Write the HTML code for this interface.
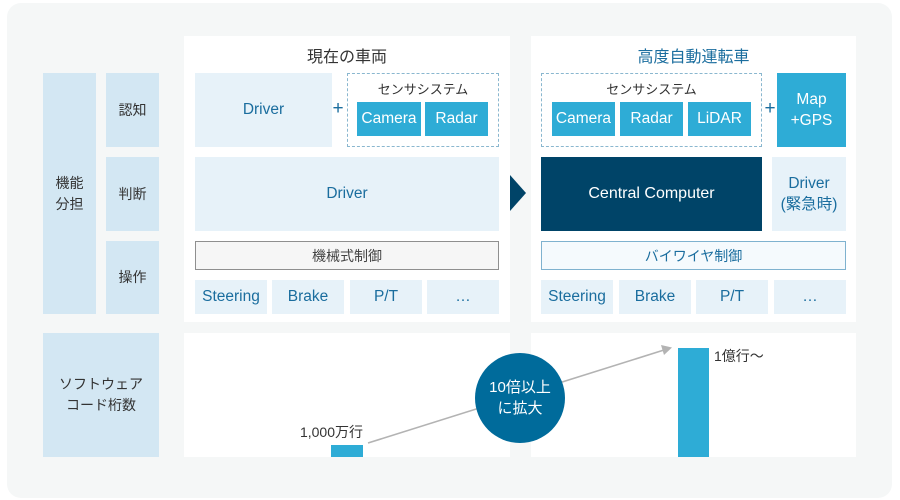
<!DOCTYPE html>
<html><head><meta charset="utf-8">
<style>
*{margin:0;padding:0;box-sizing:border-box}
body{width:900px;height:500px;background:#fff;position:relative;overflow:hidden;font-family:"Liberation Sans","Noto Sans CJK JP",sans-serif}
.a{position:absolute;display:flex;align-items:center;justify-content:center;text-align:center}
.lab{background:#d3e7f3;color:#333;font-size:14px;line-height:21px}
.lt{background:#e7f2f9;color:#1a6d9e;font-size:15.5px}
.cy{background:#2eacd6;color:#fff;font-size:15.5px}
.w{background:#fff}
.pl{color:#1a6d9e;font-size:19px;font-weight:300}
</style></head><body>
<div style="position:absolute;left:7px;top:3px;width:885px;height:495px;background:#f5f7f7;border-radius:14px"></div>

<div class="a w" style="left:184px;top:36px;width:326px;height:286px"></div>
<div class="a w" style="left:531px;top:36px;width:325px;height:286px"></div>
<div class="a w" style="left:184px;top:333px;width:326px;height:124px"></div>
<div class="a w" style="left:531px;top:333px;width:325px;height:124px"></div>

<div class="a lab" style="left:43px;top:73px;width:53px;height:241px">機能<br>分担</div>
<div class="a lab" style="left:106px;top:73px;width:53px;height:74px">認知</div>
<div class="a lab" style="left:106px;top:157px;width:53px;height:74px">判断</div>
<div class="a lab" style="left:106px;top:241px;width:53px;height:73px">操作</div>
<div class="a lab" style="left:43px;top:333px;width:116px;height:124px">ソフトウェア<br>コード桁数</div>

<div class="a" style="left:184px;top:44px;width:326px;height:22px;color:#333;font-size:16px">現在の車両</div>
<div class="a" style="left:531px;top:44px;width:325px;height:22px;color:#1a6d9e;font-size:16px">高度自動運転車</div>

<!-- left panel -->
<div class="a lt" style="left:195px;top:73px;width:137px;height:74px">Driver</div>
<div class="a pl" style="left:331px;top:98px;width:14px;height:22px">+</div>
<div style="position:absolute;left:347px;top:73px;width:152px;height:74px;border:1px dashed #8ab7cf"></div>
<div class="a" style="left:347px;top:79px;width:152px;height:18px;color:#333;font-size:13px">センサシステム</div>
<div class="a cy" style="left:357px;top:102px;width:64px;height:34px">Camera</div>
<div class="a cy" style="left:425px;top:102px;width:63px;height:34px">Radar</div>
<div class="a lt" style="left:195px;top:157px;width:304px;height:74px">Driver</div>
<div class="a" style="left:195px;top:241px;width:304px;height:29px;border:1px solid #8f8f8f;background:#f6f6f6;color:#444;font-size:14px">機械式制御</div>
<div class="a lt" style="left:195px;top:280px;width:72px;height:34px">Steering</div>
<div class="a lt" style="left:272px;top:280px;width:72px;height:34px">Brake</div>
<div class="a lt" style="left:350px;top:280px;width:72px;height:34px">P/T</div>
<div class="a lt" style="left:427px;top:280px;width:72px;height:34px">…</div>

<!-- arrow -->
<svg style="position:absolute;left:0;top:0" width="900" height="500">
<polygon points="510,175 526,193 510,211" fill="#004468"/>
<line x1="368" y1="443" x2="664" y2="350" stroke="#b3b3b3" stroke-width="1.6"/>
<polygon points="672,347.5 661,345 664,355" fill="#b3b3b3"/>
<circle cx="520" cy="398" r="45" fill="#006b9b"/>
</svg>

<!-- right panel -->
<div style="position:absolute;left:541px;top:73px;width:221px;height:74px;border:1px dashed #8ab7cf"></div>
<div class="a" style="left:541px;top:79px;width:221px;height:18px;color:#333;font-size:13px">センサシステム</div>
<div class="a cy" style="left:552px;top:102px;width:63px;height:34px">Camera</div>
<div class="a cy" style="left:620px;top:102px;width:63px;height:34px">Radar</div>
<div class="a cy" style="left:688px;top:102px;width:63px;height:34px">LiDAR</div>
<div class="a pl" style="left:763px;top:98px;width:14px;height:22px">+</div>
<div class="a cy" style="left:777px;top:73px;width:69px;height:74px;line-height:21px">Map<br>+GPS</div>
<div class="a" style="left:541px;top:157px;width:221px;height:74px;background:#004468;color:#fff;font-size:16px">Central Computer</div>
<div class="a lt" style="left:772px;top:157px;width:74px;height:74px;line-height:21px">Driver<br>(緊急時)</div>
<div class="a" style="left:541px;top:241px;width:305px;height:29px;border:1px solid #7fb2cf;background:#f5fafd;color:#1a6d9e;font-size:14px">バイワイヤ制御</div>
<div class="a lt" style="left:541px;top:280px;width:72px;height:34px">Steering</div>
<div class="a lt" style="left:619px;top:280px;width:72px;height:34px">Brake</div>
<div class="a lt" style="left:696px;top:280px;width:72px;height:34px">P/T</div>
<div class="a lt" style="left:774px;top:280px;width:72px;height:34px">…</div>

<!-- bottom -->
<div style="position:absolute;left:331px;top:445px;width:32px;height:12px;background:#2eacd6"></div>
<div class="a" style="left:280px;top:423px;width:83px;height:18px;justify-content:flex-end;color:#333;font-size:14px">1,000万行</div>
<div style="position:absolute;left:678px;top:348px;width:31px;height:109px;background:#2eacd6"></div>
<div class="a" style="left:714px;top:346px;width:70px;height:20px;justify-content:flex-start;color:#333;font-size:14px">1億行〜</div>
<div class="a" style="left:470px;top:377px;width:100px;height:42px;color:#fff;font-size:15px;line-height:21px">10倍以上<br>に拡大</div>
</body></html>
